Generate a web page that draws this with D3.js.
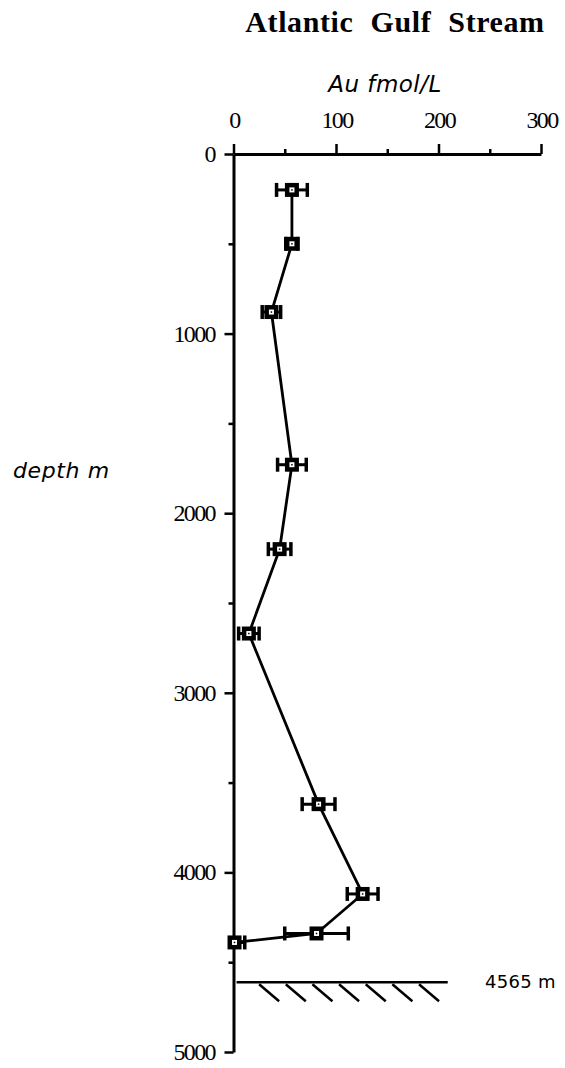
<!DOCTYPE html>
<html><head><meta charset="utf-8">
<script src="https://cdn.jsdelivr.net/npm/d3@7/dist/d3.min.js"></script>
<style>body{margin:0;background:#fff}svg{display:block}</style>
</head><body>
<svg id="c" width="565" height="1068"></svg>
<script>
const depths   = [200, 500, 880, 1730, 2200, 2670, 3620, 4120, 4340, 4390];
const auValues = [57, 57, 37, 57, 45, 15, 83, 126, 81, 1];
const auErrors = [15, 6, 9, 14, 11, 10, 16, 15, 31, 10];
const xTicks = [0, 100, 200, 300];
const xMinor = [50, 150, 250];
const yTicks = [0, 1000, 2000, 3000, 4000, 5000];
const yMinor = [500, 1500, 2500, 3500, 4500];
const bottomLine = [3, 209];
const bottomDepthPos = 4612;
const bottomLabel = "4565 m";
const hatchStarts = [25, 51, 77, 103, 129, 155, 181];

const svg = d3.select("#c");
const x = d3.scaleLinear().domain([0, 300]).range([233.5, 541]);
const y = d3.scaleLinear().domain([0, 5000]).range([154, 1052]);
const data = depths.map((d, i) => ({d, v: auValues[i], e: auErrors[i]}));

// Titles
svg.append("text").attr("x", 395).attr("y", 32).attr("text-anchor", "middle")
  .attr("font-family", "Liberation Serif").attr("font-weight", "bold").attr("font-size", 30)
  .attr("letter-spacing", 0.6).attr("word-spacing", 9)
  .text("Atlantic Gulf Stream");
svg.append("text").attr("x", 385).attr("y", 92).attr("text-anchor", "middle")
  .attr("font-family", "DejaVu Sans").attr("font-style", "italic").attr("font-size", 23)
  .attr("letter-spacing", 0.5)
  .text("Au fmol/L");
svg.append("text").attr("x", 13).attr("y", 478)
  .attr("font-family", "DejaVu Sans").attr("font-style", "italic").attr("font-size", 22)
  .attr("letter-spacing", 0.6)
  .text("depth m");

// Axes
svg.append("g").attr("transform", `translate(0,${y(0)})`)
  .call(d3.axisTop(x).tickValues(xTicks).tickSize(10).tickSizeOuter(0).tickFormat(""));
svg.append("g").attr("transform", `translate(0,${y(0)})`)
  .call(d3.axisTop(x).tickValues(xMinor).tickSize(5).tickSizeOuter(0).tickFormat(""))
  .select(".domain").remove();
svg.append("g").attr("transform", `translate(${x(0)},0)`)
  .call(d3.axisLeft(y).tickValues(yTicks).tickSize(9).tickSizeOuter(0).tickFormat(""));
svg.append("g").attr("transform", `translate(${x(0)},0)`)
  .call(d3.axisLeft(y).tickValues(yMinor).tickSize(5).tickSizeOuter(0).tickFormat(""))
  .select(".domain").remove();
svg.selectAll(".domain").attr("stroke", "#000").attr("stroke-width", 3);
svg.selectAll(".tick line").attr("stroke", "#000").attr("stroke-width", 2.5);

svg.append("g").selectAll("text").data(xTicks).join("text")
  .attr("x", d => x(d) + 1).attr("y", 128).attr("text-anchor", "middle")
  .attr("font-family", "Liberation Serif").attr("font-size", 24).attr("letter-spacing", -1.6)
  .text(d => d);
svg.append("g").selectAll("text").data(yTicks).join("text")
  .attr("x", 215).attr("y", d => y(d) + 8).attr("text-anchor", "end")
  .attr("font-family", "Liberation Serif").attr("font-size", 24).attr("letter-spacing", -1.6)
  .text(d => d);

// Line
svg.append("path").datum(data)
  .attr("d", d3.line().x(p => x(p.v)).y(p => y(p.d)))
  .attr("fill", "none").attr("stroke", "#000").attr("stroke-width", 2.8);

// Error bars
const eb = svg.append("g").selectAll("g").data(data).join("g");
eb.append("line").attr("x1", p => x(Math.max(0, p.v - p.e))).attr("x2", p => x(p.v + p.e))
  .attr("y1", p => y(p.d)).attr("y2", p => y(p.d)).attr("stroke", "#000").attr("stroke-width", 3);
eb.filter(p => p.v - p.e > 0).append("line").attr("x1", p => x(p.v - p.e)).attr("x2", p => x(p.v - p.e))
  .attr("y1", p => y(p.d) - 7).attr("y2", p => y(p.d) + 7).attr("stroke", "#000").attr("stroke-width", 3.5);
eb.append("line").attr("x1", p => x(p.v + p.e)).attr("x2", p => x(p.v + p.e))
  .attr("y1", p => y(p.d) - 7).attr("y2", p => y(p.d) + 7).attr("stroke", "#000").attr("stroke-width", 3.5);

// Markers
const mk = svg.append("g").selectAll("g").data(data).join("g")
  .attr("transform", p => `translate(${x(p.v)},${y(p.d)})`);
mk.append("rect").attr("x", -7).attr("y", -7).attr("width", 14).attr("height", 14).attr("fill", "#000");
mk.append("rect").attr("x", -2.5).attr("y", -2.5).attr("width", 5).attr("height", 5).attr("fill", "#fff");
mk.append("rect").attr("x", -0.75).attr("y", -0.75).attr("width", 1.5).attr("height", 1.5).attr("fill", "#000");

// Sea floor
const yb = y(bottomDepthPos);
svg.append("line").attr("x1", x(bottomLine[0])).attr("x2", x(bottomLine[1]))
  .attr("y1", yb).attr("y2", yb).attr("stroke", "#000").attr("stroke-width", 2.5);
svg.append("g").selectAll("line").data(hatchStarts).join("line")
  .attr("x1", d => x(d)).attr("x2", d => x(d) + 20)
  .attr("y1", yb + 2).attr("y2", yb + 19).attr("stroke", "#000").attr("stroke-width", 2.5);
svg.append("text").attr("x", 485).attr("y", yb + 6)
  .attr("font-family", "DejaVu Sans").attr("font-size", 18).attr("letter-spacing", 0.3)
  .text(bottomLabel);
</script>
</body></html>
